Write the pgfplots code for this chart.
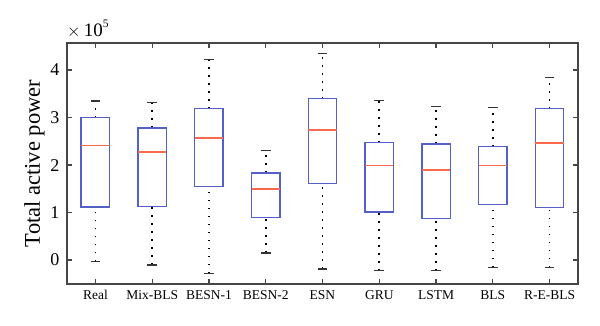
\documentclass[border=0pt]{standalone}
\usepackage{fontspec}
\setmainfont{Liberation Serif}
\usepackage{pgfplots}
\pgfplotsset{compat=1.18}
\usepgfplotslibrary{statistics}
\definecolor{boxblue}{RGB}{85,95,200}
\definecolor{medred}{RGB}{250,105,75}
\definecolor{axgray}{RGB}{70,70,70}
\pgfplotsset{
  mybox/.style={
    boxplot/draw direction=y,
    boxplot/box extend=0.5,
    boxplot/whisker extend=0.17,
    boxplot/every box/.style={draw=boxblue, line width=1.4pt, fill=none},
    boxplot/every median/.style={draw=medred, line width=1.6pt},
    boxplot/draw/lower whisker/.code={
      \draw[black, line width=1.7pt, dash pattern=on 1.7pt off 6.3pt]
        (boxplot box cs:\pgfplotsboxplotvalue{lower whisker},0.5) --
        (boxplot box cs:\pgfplotsboxplotvalue{lower quartile},0.5);
      \draw[black!80, line width=1.3pt]
        (boxplot whisker cs:\pgfplotsboxplotvalue{lower whisker},0) --
        (boxplot whisker cs:\pgfplotsboxplotvalue{lower whisker},1);
    },
    boxplot/draw/upper whisker/.code={
      \draw[black, line width=1.7pt, dash pattern=on 1.7pt off 6.3pt]
        (boxplot box cs:\pgfplotsboxplotvalue{upper quartile},0.5) --
        (boxplot box cs:\pgfplotsboxplotvalue{upper whisker},0.5);
      \draw[black!80, line width=1.3pt]
        (boxplot whisker cs:\pgfplotsboxplotvalue{upper whisker},0) --
        (boxplot whisker cs:\pgfplotsboxplotvalue{upper whisker},1);
    },
  }
}
\newcommand{\bx}[6]{\addplot[mybox, boxplot prepared={draw position=#1, lower whisker=#2, lower quartile=#3, median=#4, upper quartile=#5, upper whisker=#6}] coordinates {};}
\begin{document}
\begin{tikzpicture}[x=1pt,y=1pt]
\useasboundingbox (-67,-41) rectangle (533,284);
\begin{axis}[
  at={(0,0)}, anchor=south west,
  scale only axis, width=511pt, height=241pt,
  xmin=0.5, xmax=9.5, ymin=-0.505, ymax=4.57,
  xtick={1,...,9},
  xticklabels={Real,Mix-BLS,BESN-1,BESN-2,ESN,GRU,LSTM,BLS,R-E-BLS},
  ytick={0,1,2,3,4},
  tick align=inside,
  major tick length=5pt,
  tick style={axgray, line width=1.3pt},
  axis line style={axgray, line width=1.5pt},
  xticklabel style={font=\fontsize{13.5}{13.5}\selectfont, yshift=-3pt},
  yticklabel style={font=\fontsize{18}{18}\selectfont, xshift=-4pt},
  /pgf/number format/assume math mode=true,
  ylabel={Total active power},
  ylabel style={font=\fontsize{22.5}{22.5}\selectfont, yshift=-1pt},
  clip=false,
]
\bx{1}{-0.03}{1.12}{2.41}{3.00}{3.35}
\bx{2}{-0.105}{1.13}{2.27}{2.78}{3.32}
\bx{3}{-0.28}{1.55}{2.57}{3.19}{4.22}
\bx{4}{0.15}{0.89}{1.50}{1.83}{2.30}
\bx{5}{-0.19}{1.61}{2.74}{3.40}{4.35}
\bx{6}{-0.225}{1.01}{1.99}{2.47}{3.36}
\bx{7}{-0.225}{0.88}{1.90}{2.44}{3.23}
\bx{8}{-0.155}{1.17}{1.99}{2.39}{3.21}
\bx{9}{-0.155}{1.10}{2.46}{3.19}{3.85}
\node[anchor=base west, inner sep=0pt, font=\fontsize{19}{19}\selectfont] at (rel axis cs:0,1) [yshift=7pt] {$\times$\,10\raisebox{0.45em}{\fontsize{11.5}{11.5}\selectfont 5}};
\end{axis}
\end{tikzpicture}
\end{document}
